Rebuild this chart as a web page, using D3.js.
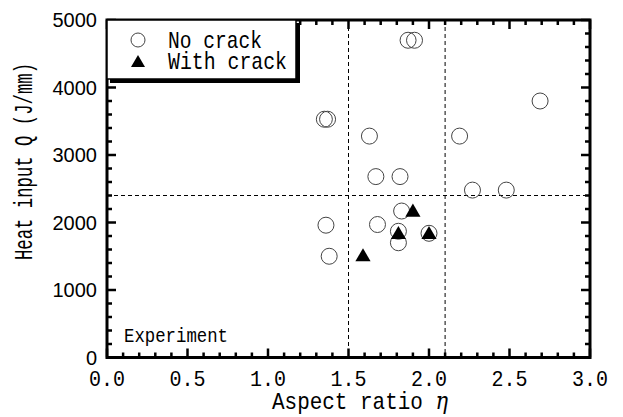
<!DOCTYPE html>
<html>
<head>
<meta charset="utf-8">
<script src="https://cdn.jsdelivr.net/npm/d3@7"></script>
<style>
  body { margin: 0; background: #fff; }
  svg { display: block; }
</style>
</head>
<body>
<script>
// values
var noCrackEta = [1.87, 1.91, 1.35, 1.37, 1.63, 2.19, 2.69, 1.67, 1.82, 2.27, 2.48, 1.83, 1.36, 1.68, 1.81, 1.81, 2.00, 1.38];
var noCrackQ   = [4700, 4700, 3530, 3530, 3280, 3280, 3800, 2680, 2680, 2480, 2480, 2170, 1960, 1970, 1870, 1700, 1840, 1500];
var crackEta = [1.90, 1.81, 2.00, 1.59];
var crackQ   = [2150, 1820, 1820, 1490];
var xTicks = [0, 0.5, 1.0, 1.5, 2.0, 2.5, 3.0];
var yTicks = [0, 1000, 2000, 3000, 4000, 5000];
var etaLimits = [1.5, 2.1];
var qLimit = 2400;

var width = 623, height = 417;
var pLeft = 107, pRight = 590, pTop = 20, pBottom = 357.5;

var x = d3.scaleLinear().domain([0, 3]).range([pLeft, pRight]);
var y = d3.scaleLinear().domain([0, 5000]).range([pBottom, pTop]);

var svg = d3.select("body").append("svg")
  .attr("width", width)
  .attr("height", height);

var mono = "'Liberation Mono', 'DejaVu Sans Mono', monospace";

// dashed guide lines
var guides = svg.append("g")
  .attr("stroke", "#000")
  .attr("stroke-width", 1)
  .attr("stroke-dasharray", "4,3");
etaLimits.forEach(function (v) {
  guides.append("line")
    .attr("x1", x(v)).attr("x2", x(v))
    .attr("y1", pTop).attr("y2", pBottom);
});
guides.append("line")
  .attr("x1", pLeft).attr("x2", pRight)
  .attr("y1", y(qLimit)).attr("y2", y(qLimit));

// minor/major ticks, inward on all four sides
var ticks = svg.append("g").attr("stroke", "#000").attr("stroke-width", 2.5);
d3.range(0, 31).forEach(function (i) {
  var len = i % 5 === 0 ? 9 : 5;
  var px = x(i / 10);
  ticks.append("line").attr("x1", px).attr("x2", px).attr("y1", pBottom).attr("y2", pBottom - len);
  ticks.append("line").attr("x1", px).attr("x2", px).attr("y1", pTop).attr("y2", pTop + len);
});
d3.range(0, 26).forEach(function (i) {
  var len = i % 5 === 0 ? 9 : 5;
  var py = y(i * 200);
  ticks.append("line").attr("x1", pLeft).attr("x2", pLeft + len).attr("y1", py).attr("y2", py);
  ticks.append("line").attr("x1", pRight).attr("x2", pRight - len).attr("y1", py).attr("y2", py);
});

// frame
svg.append("rect")
  .attr("x", pLeft).attr("y", pTop)
  .attr("width", pRight - pLeft).attr("height", pBottom - pTop)
  .attr("fill", "none")
  .attr("stroke", "#000")
  .attr("stroke-width", 3);

// tick labels
svg.append("g").selectAll("text")
  .data(xTicks)
  .enter().append("text")
  .attr("x", function (d) { return x(d); })
  .attr("y", 386)
  .attr("text-anchor", "middle")
  .attr("font-family", mono)
  .attr("font-size", 22)
  .attr("textLength", 36)
  .attr("lengthAdjust", "spacingAndGlyphs")
  .text(function (d) { return d3.format(".1f")(d); });

svg.append("g").selectAll("text")
  .data(yTicks)
  .enter().append("text")
  .attr("x", 97)
  .attr("y", function (d) { return y(d); })
  .attr("dy", "0.36em")
  .attr("text-anchor", "end")
  .attr("font-family", "'Liberation Sans', Arial, sans-serif")
  .attr("font-size", 20)
  .text(function (d) { return d; });

// axis titles
var xt = svg.append("text")
  .attr("x", 272).attr("y", 409)
  .attr("font-family", mono)
  .attr("font-size", 24)
  .attr("textLength", 176)
  .attr("lengthAdjust", "spacingAndGlyphs");
xt.append("tspan").text("Aspect ratio ");
xt.append("tspan").attr("font-style", "italic").attr("font-family", "'DejaVu Serif', serif").text("η");

svg.append("text")
  .attr("transform", "translate(32,161.5) rotate(-90)")
  .attr("text-anchor", "middle")
  .attr("font-family", mono)
  .attr("font-size", 25)
  .attr("textLength", 197)
  .attr("lengthAdjust", "spacingAndGlyphs")
  .text("Heat input Q (J/mm)");

svg.append("text")
  .attr("x", 124).attr("y", 342)
  .attr("font-family", mono)
  .attr("font-size", 21)
  .attr("textLength", 104)
  .attr("lengthAdjust", "spacingAndGlyphs")
  .text("Experiment");

// data
var tri = d3.symbol().type(d3.symbolTriangle).size(100);

svg.append("g").selectAll("circle")
  .data(noCrackEta)
  .enter().append("circle")
  .attr("cx", function (d) { return x(d); })
  .attr("cy", function (d, i) { return y(noCrackQ[i]); })
  .attr("r", 8)
  .attr("fill", "none")
  .attr("stroke", "#444")
  .attr("stroke-width", 1);

svg.append("g").selectAll("path")
  .data(crackEta)
  .enter().append("path")
  .attr("d", tri)
  .attr("transform", function (d, i) { return "translate(" + x(d) + "," + y(crackQ[i]) + ")"; })
  .attr("fill", "#000");

// legend with drop shadow
var lg = svg.append("g");
lg.append("rect").attr("x", 110).attr("y", 23).attr("width", 190).attr("height", 60).attr("fill", "#000");
lg.append("rect").attr("x", 107).attr("y", 20).attr("width", 189).attr("height", 59)
  .attr("fill", "#fff").attr("stroke", "#000").attr("stroke-width", 1.5);
lg.append("circle").attr("cx", 138).attr("cy", 40).attr("r", 7)
  .attr("fill", "none").attr("stroke", "#444").attr("stroke-width", 1);
lg.append("path").attr("d", d3.symbol().type(d3.symbolTriangle).size(85))
  .attr("transform", "translate(138,63)").attr("fill", "#000");
lg.append("text").attr("x", 168).attr("y", 48)
  .attr("font-family", mono).attr("font-size", 24)
  .attr("textLength", 94).attr("lengthAdjust", "spacingAndGlyphs")
  .text("No crack");
lg.append("text").attr("x", 168).attr("y", 69)
  .attr("font-family", mono).attr("font-size", 24)
  .attr("textLength", 119).attr("lengthAdjust", "spacingAndGlyphs")
  .text("With crack");
</script>
</body>
</html>
